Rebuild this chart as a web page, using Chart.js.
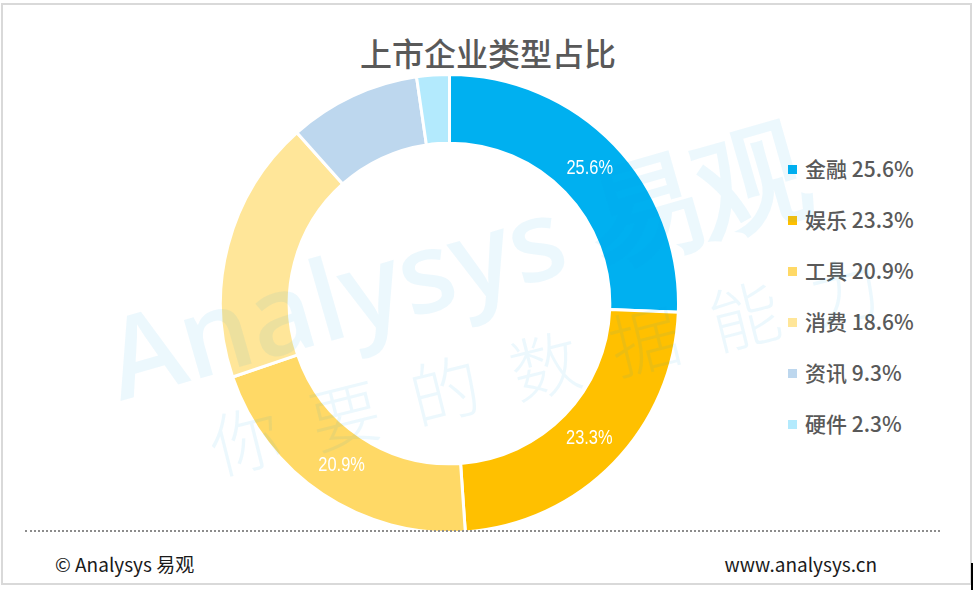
<!DOCTYPE html>
<html lang="zh">
<head>
  <meta charset="UTF-8">
  <title>上市企业类型占比</title>
  <script src="https://cdn.jsdelivr.net/npm/chart.js"></script>
  <style>
    html, body { margin: 0; padding: 0; background: #fff; }
    body { width: 976px; height: 590px; position: relative; overflow: hidden; font-family: "Noto Sans CJK SC", "Noto Sans", sans-serif; }
    .marco { position: absolute; left: 1px; top: 3px; width: 967px; height: 578px; border: 2px solid #d9d9d9; }
    .titulo { position: absolute; left: 0; width: 976px; top: 30px; line-height: 44px; text-align: center; font-size: 32px; font-weight: 500; color: #595959; }
    .grafico { position: absolute; left: 219px; top: 73px; width: 461px; height: 461px; }
    .leyenda { position: absolute; left: 0; top: 0; }
    .item { position: absolute; left: 788px; height: 28px; line-height: 28px; font-size: 21px; font-weight: 500; color: #595959; white-space: nowrap; }
    .item i { display: inline-block; width: 9px; height: 9px; margin-right: 8px; vertical-align: middle; position: relative; top: -2px; }
    .punteada { position: absolute; left: 25px; top: 530px; width: 915px; border-top: 2px dotted #8c8c8c; }
    .pie { position: absolute; top: 549px; line-height: 30px; font-size: 19px; color: #1a1a1a; }
    .marca { position: absolute; pointer-events: none; white-space: nowrap; color: rgba(0, 160, 233, 0.075); transform: translate(-50%, -50%); }
    .raya { position: absolute; left: 971px; top: 563px; width: 2px; height: 27px; background: #000; }
  </style>
</head>
<body>

  <div class="marco"></div>
  <div class="raya"></div>
  <div class="titulo">上市企业类型占比</div>
  <div class="grafico"><canvas id="grafico"></canvas></div>
  <div class="leyenda" id="leyenda"></div>
  <div class="punteada"></div>
  <div class="pie" style="left:55px;">© Analysys 易观</div>
  <div class="pie" style="right:99px;">www.analysys.cn</div>

  <div class="marca" style="left:457px; top:262px; font-size:112px; font-weight:600; font-family:'Open Sans', sans-serif; transform: translate(-50%,-50%) rotate(-16deg);">Analysys 易观</div>
  <div class="marca" style="left:560px; top:358px; font-size:70px; font-weight:300; letter-spacing:33px; transform: translate(-50%,-50%) rotate(-14deg);">你要的数据能力</div>

  <script>
    const categorias = ["金融", "娱乐", "工具", "消费", "资讯", "硬件"];
    const valores = [25.6, 23.3, 20.9, 18.6, 9.3, 2.3];
    const colores = ["#00B0F0", "#FFC000", "#FFD966", "#FFE699", "#BDD7EE", "#B3EAFD"];
    const conEtiqueta = [true, true, true, false, false, false];

    // leyenda a la derecha
    const leyenda = document.getElementById("leyenda");
    categorias.forEach((c, i) => {
      const d = document.createElement("div");
      d.className = "item";
      d.style.top = (154 + i * 51) + "px";
      d.innerHTML = `<i style="background:${colores[i]}"></i>${c} ${valores[i].toFixed(1)}%`;
      leyenda.appendChild(d);
    });

    // etiquetas dentro de los sectores (letra estrecha)
    const etiquetas = {
      id: "etiquetas",
      afterDatasetsDraw(chart) {
        const ctx = chart.ctx;
        const meta = chart.getDatasetMeta(0);
        meta.data.forEach((arc, i) => {
          if (!conEtiqueta[i]) return;
          const p = arc.tooltipPosition();
          ctx.save();
          ctx.translate(p.x, p.y);
          ctx.scale(0.82, 1);
          ctx.fillStyle = "#ffffff";
          ctx.font = "20px 'Liberation Sans', Arial, sans-serif";
          ctx.textAlign = "center";
          ctx.textBaseline = "middle";
          ctx.fillText(valores[i].toFixed(1) + "%", 0, 0);
          ctx.restore();
        });
      }
    };

    new Chart(document.getElementById("grafico"), {
      type: "doughnut",
      data: {
        labels: categorias,
        datasets: [{
          data: valores,
          backgroundColor: colores,
          borderColor: "#ffffff",
          borderWidth: 3
        }]
      },
      options: {
        responsive: true,
        maintainAspectRatio: false,
        animation: false,
        cutout: "70%",
        plugins: {
          legend: { display: false },
          tooltip: { enabled: false }
        }
      },
      plugins: [etiquetas]
    });
  </script>

</body>
</html>
